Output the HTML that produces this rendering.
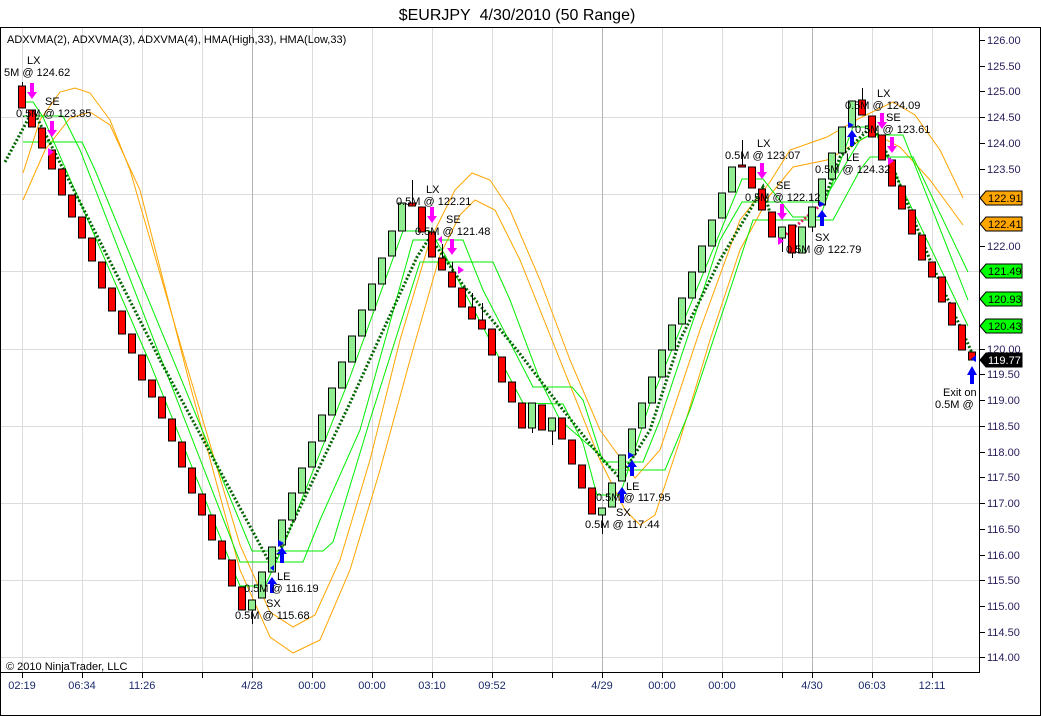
<!DOCTYPE html>
<html><head><meta charset="utf-8"><style>
html,body{margin:0;padding:0;background:#fff;}
svg{display:block;font-family:"Liberation Sans",Arial,sans-serif;}
</style></head><body>
<svg width="1041" height="716" viewBox="0 0 1041 716" xmlns="http://www.w3.org/2000/svg">
<rect width="1041" height="716" fill="#fff"/>
<text x="517" y="20" font-size="16" text-anchor="middle" fill="#000">$EURJPY&#160; 4/30/2010 (50 Range)</text>
<rect x="0.5" y="27.5" width="1040" height="688" fill="none" stroke="#000"/>
<!-- grid -->
<g stroke="#dcdcdc" stroke-width="1">
<line x1="1" x2="979" y1="117.5" y2="117.5"/><line x1="1" x2="979" y1="194.5" y2="194.5"/>
<line x1="1" x2="979" y1="271.5" y2="271.5"/><line x1="1" x2="979" y1="349.5" y2="349.5"/>
<line x1="1" x2="979" y1="426.5" y2="426.5"/><line x1="1" x2="979" y1="503.5" y2="503.5"/>
<line x1="1" x2="979" y1="580.5" y2="580.5"/><line x1="1" x2="979" y1="657.5" y2="657.5"/>
<line x1="22.5" x2="22.5" y1="28" y2="672"/><line x1="82.5" x2="82.5" y1="28" y2="672"/>
<line x1="142.5" x2="142.5" y1="28" y2="672"/><line x1="202.5" x2="202.5" y1="28" y2="672"/>
<line x1="312.5" x2="312.5" y1="28" y2="672"/><line x1="372.5" x2="372.5" y1="28" y2="672"/>
<line x1="432.5" x2="432.5" y1="28" y2="672"/><line x1="492.5" x2="492.5" y1="28" y2="672"/>
<line x1="552.5" x2="552.5" y1="28" y2="672"/><line x1="662.5" x2="662.5" y1="28" y2="672"/>
<line x1="722.5" x2="722.5" y1="28" y2="672"/><line x1="782.5" x2="782.5" y1="28" y2="672"/>
<line x1="872.5" x2="872.5" y1="28" y2="672"/><line x1="932.5" x2="932.5" y1="28" y2="672"/>
</g>
<g stroke="#b4b4b4"><line x1="252.5" x2="252.5" y1="28" y2="672"/><line x1="602.5" x2="602.5" y1="28" y2="672"/><line x1="812.5" x2="812.5" y1="28" y2="672"/></g>
<!-- orange HMA -->
<g fill="none" stroke="#FFA500" stroke-width="1">
<polyline points="23,173 40,120 60,92 75,88 90,93 110,120 130,170 185,360 240,545 270,612 293,627 315,615 340,560 370,460 400,340 430,240 455,190 472,173 490,180 510,210 540,280 570,360 600,430 635,478 660,450 700,330 740,220 770,182 790,150 827,137 860,118 893,102 915,115 940,150 963,198"/>
<polyline points="23,200 45,150 70,118 90,112 110,125 140,190 190,385 240,570 270,637 293,653 320,640 350,570 380,470 410,360 440,255 460,215 475,200 495,210 520,260 560,360 600,460 625,510 640,525 655,515 680,440 710,340 740,250 770,195 793,167 827,160 873,133 900,147 930,180 963,225"/>
</g>
<!-- green ADXVMA -->
<g fill="none" stroke="#00EE00" stroke-width="1">
<polyline points="23,102 33,102 43,117 150,363 240,586 265,586 283,547 350,377 403,231 430,231 445,255 523,403 563,404 583,443 597,495 620,495 650,403 742,179 763,179 793,217 820,217 853,127 873,127 968,326"/>
<polyline points="23,116 63,116 80,150 240,562 303,562 320,520 360,430 413,240 463,240 483,290 533,387 572,387 583,400 603,462 643,462 660,420 720,240 742,202 820,202 830,190 860,140 870,135 903,135 968,300"/>
<polyline points="23,142 82,142 95,170 252,551 323,551 333,542 370,420 420,262 493,262 510,300 540,380 560,420 600,455 612,470 665,470 690,410 730,290 753,220 833,220 860,170 870,157 913,157 968,272"/>
</g>
<!-- dotted -->
<polyline fill="none" stroke="#006400" stroke-width="3" stroke-dasharray="2,2" points="5,162 33,110 50,143 160,360 272,567 283,543 350,403 380,337 417,257 430,237 463,285 517,350 563,410 603,460 620,478 650,430 680,340 720,260 750,210 763,187 775,232"/>
<polyline fill="none" stroke="#E02060" stroke-width="3" stroke-dasharray="2,2" points="783,237 823,203"/>
<polyline fill="none" stroke="#006400" stroke-width="3" stroke-dasharray="2,2" points="823,203 840,157 873,125 890,160 930,260 973,355"/>
<!-- wicks -->
<g stroke="#000" stroke-width="1">
<line x1="22.5" x2="22.5" y1="82" y2="86"/><line x1="252.5" x2="252.5" y1="610" y2="624"/>
<line x1="412.5" x2="412.5" y1="180" y2="206"/><line x1="442.5" x2="442.5" y1="244" y2="258"/>
<line x1="452.5" x2="452.5" y1="262" y2="272"/><line x1="472.5" x2="472.5" y1="293" y2="307"/>
<line x1="482.5" x2="482.5" y1="303" y2="320"/><line x1="532.5" x2="532.5" y1="428" y2="433"/>
<line x1="552.5" x2="552.5" y1="431" y2="445"/><line x1="602.5" x2="602.5" y1="515" y2="534"/>
<line x1="742.5" x2="742.5" y1="140" y2="167"/><line x1="782.5" x2="782.5" y1="238" y2="252"/>
<line x1="812.5" x2="812.5" y1="227" y2="232"/><line x1="862.5" x2="862.5" y1="88" y2="100"/>
<line x1="792.5" x2="792.5" y1="253" y2="258"/>
</g>
<!-- bars -->
<g stroke="#000" stroke-width="1" fill="#FF0000">
<rect x="18.5" y="86" width="7" height="22"/><rect x="28.5" y="110" width="7" height="17"/>
<rect x="38.5" y="128" width="7" height="20"/><rect x="48.5" y="150" width="7" height="19"/>
<rect x="58.5" y="169" width="7" height="26"/><rect x="68.5" y="195" width="7" height="22"/>
<rect x="78.5" y="217" width="7" height="21"/><rect x="88.5" y="238" width="7" height="23"/>
<rect x="98.5" y="262" width="7" height="26"/><rect x="108.5" y="288" width="7" height="23"/>
<rect x="118.5" y="311" width="7" height="23"/><rect x="128.5" y="334" width="7" height="19"/>
<rect x="138.5" y="355" width="7" height="25"/><rect x="148.5" y="380" width="7" height="17"/>
<rect x="158.5" y="397" width="7" height="21"/><rect x="168.5" y="419" width="7" height="22"/>
<rect x="178.5" y="442" width="7" height="25"/><rect x="188.5" y="468" width="7" height="25"/>
<rect x="198.5" y="494" width="7" height="21"/><rect x="208.5" y="515" width="7" height="25"/>
<rect x="218.5" y="541" width="7" height="18"/><rect x="228.5" y="560" width="7" height="26"/>
<rect x="238.5" y="587" width="7" height="23"/>
<rect x="408.5" y="203" width="7" height="3"/><rect x="418.5" y="207" width="7" height="25"/>
<rect x="428.5" y="232" width="7" height="25"/><rect x="438.5" y="258" width="7" height="12"/>
<rect x="448.5" y="272" width="7" height="15"/><rect x="458.5" y="288" width="7" height="19"/>
<rect x="468.5" y="307" width="7" height="12"/><rect x="478.5" y="320" width="7" height="9"/>
<rect x="488.5" y="329" width="7" height="26"/><rect x="498.5" y="357" width="7" height="25"/>
<rect x="508.5" y="382" width="7" height="20"/><rect x="518.5" y="403" width="7" height="25"/>
<rect x="538.5" y="405" width="7" height="25"/><rect x="558.5" y="418" width="7" height="21"/>
<rect x="568.5" y="440" width="7" height="24"/><rect x="578.5" y="465" width="7" height="23"/>
<rect x="588.5" y="488" width="7" height="26"/>
<rect x="738.5" y="165" width="7" height="2"/><rect x="748.5" y="167" width="7" height="21"/>
<rect x="758.5" y="189" width="7" height="21"/><rect x="768.5" y="212" width="7" height="25"/>
<rect x="788.5" y="225" width="7" height="28"/>
<rect x="858.5" y="100" width="7" height="15"/><rect x="868.5" y="116" width="7" height="21"/>
<rect x="878.5" y="135" width="7" height="25"/><rect x="888.5" y="160" width="7" height="26"/>
<rect x="898.5" y="186" width="7" height="23"/><rect x="908.5" y="210" width="7" height="24"/>
<rect x="918.5" y="235" width="7" height="25"/><rect x="928.5" y="262" width="7" height="15"/>
<rect x="938.5" y="277" width="7" height="25"/><rect x="948.5" y="303" width="7" height="22"/>
<rect x="958.5" y="325" width="7" height="25"/><rect x="968.5" y="352" width="7" height="8"/>
</g>
<g stroke="#000" stroke-width="1" fill="#90EE90">
<rect x="248.5" y="600" width="7" height="10"/><rect x="258.5" y="572" width="7" height="26"/>
<rect x="268.5" y="547" width="7" height="25"/><rect x="278.5" y="520" width="7" height="25"/>
<rect x="288.5" y="493" width="7" height="27"/><rect x="298.5" y="468" width="7" height="25"/>
<rect x="308.5" y="442" width="7" height="25"/><rect x="318.5" y="415" width="7" height="26"/>
<rect x="328.5" y="388" width="7" height="27"/><rect x="338.5" y="362" width="7" height="26"/>
<rect x="348.5" y="336" width="7" height="26"/><rect x="358.5" y="310" width="7" height="26"/>
<rect x="368.5" y="284" width="7" height="26"/><rect x="378.5" y="258" width="7" height="26"/>
<rect x="388.5" y="231" width="7" height="25"/><rect x="398.5" y="203" width="7" height="28"/>
<rect x="528.5" y="403" width="7" height="25"/><rect x="548.5" y="418" width="7" height="13"/>
<rect x="598.5" y="508" width="7" height="7"/><rect x="608.5" y="483" width="7" height="24"/>
<rect x="618.5" y="455" width="7" height="26"/><rect x="628.5" y="429" width="7" height="26"/>
<rect x="638.5" y="403" width="7" height="25"/><rect x="648.5" y="377" width="7" height="26"/>
<rect x="658.5" y="350" width="7" height="27"/><rect x="668.5" y="325" width="7" height="25"/>
<rect x="678.5" y="298" width="7" height="26"/><rect x="688.5" y="272" width="7" height="26"/>
<rect x="698.5" y="246" width="7" height="26"/><rect x="708.5" y="220" width="7" height="26"/>
<rect x="718.5" y="193" width="7" height="25"/><rect x="728.5" y="167" width="7" height="25"/>
<rect x="778.5" y="227" width="7" height="11"/><rect x="798.5" y="227" width="7" height="26"/>
<rect x="808.5" y="207" width="7" height="20"/><rect x="818.5" y="179" width="7" height="26"/>
<rect x="828.5" y="153" width="7" height="26"/><rect x="838.5" y="127" width="7" height="26"/>
<rect x="848.5" y="101" width="7" height="26"/>
</g>
<!-- arrows -->
<g fill="#FF00FF">
<polygon points="30,83 34,83 34,92 37,92 32,99 27,92 30,92"/>
<polygon points="50,121 54,121 54,130 57,130 52,137 47,130 50,130"/>
<polygon points="430,207 434,207 434,216 437,216 432,223 427,216 430,216"/>
<polygon points="450,239 454,239 454,248 457,248 452,255 447,248 450,248"/>
<polygon points="760,163 764,163 764,172 767,172 762,179 757,172 760,172"/>
<polygon points="780,204 784,204 784,213 787,213 782,220 777,213 780,213"/>
<polygon points="880,113 884,113 884,122 887,122 882,129 877,122 880,122"/>
<polygon points="890,137 894,137 894,146 897,146 892,153 887,146 890,146"/>
<polygon points="48,148 54,152 48,156"/><polygon points="438,239 442,236 442,244"/><polygon points="458,266 464,270 458,274"/>
<polygon points="778,237 784,241 778,245"/><polygon points="888,157 894,161 888,165"/>
</g>
<g fill="#0000FF">
<polygon points="270,593 274,593 274,584 277,584 272,577 267,584 270,584"/>
<polygon points="280,563 284,563 284,554 287,554 282,547 277,554 280,554"/>
<polygon points="620,503 624,503 624,494 627,494 622,487 617,494 620,494"/>
<polygon points="630,476 634,476 634,467 637,467 632,460 627,467 630,467"/>
<polygon points="820,226 824,226 824,217 827,217 822,210 817,217 820,217"/>
<polygon points="850,146 854,146 854,137 857,137 852,130 847,137 850,137"/>
<polygon points="970,384 974,384 974,375 977,375 972,366 967,375 970,375"/>
<polygon points="278,540 284,543 278,547"/><polygon points="628,452 634,455 628,459"/><polygon points="819,201 825,204 819,207"/>
<polygon points="848,122 854,125 848,128"/><polygon points="976,355 976,362 971,359"/><polygon points="270,568 274,565 274,571"/>
</g>
<!-- annotations -->
<g font-size="11" fill="#000">
<text x="7" y="43">ADXVMA(2), ADXVMA(3), ADXVMA(4), HMA(High,33), HMA(Low,33)</text>
<text x="27" y="64">LX</text><text x="4" y="76">5M @ 124.62</text>
<text x="45" y="105">SE</text><text x="16" y="117">0.5M @ 123.85</text>
<text x="426" y="193">LX</text><text x="396" y="205">0.5M @ 122.21</text>
<text x="446" y="223">SE</text><text x="415" y="235">0.5M @ 121.48</text>
<text x="277" y="580">LE</text><text x="244" y="592">0.5M @ 116.19</text>
<text x="266" y="607">SX</text><text x="235" y="619">0.5M @ 115.68</text>
<text x="626" y="490">LE</text><text x="596" y="501">0.5M @ 117.95</text>
<text x="616" y="516">SX</text><text x="585" y="528">0.5M @ 117.44</text>
<text x="757" y="147">LX</text><text x="725" y="159">0.5M @ 123.07</text>
<text x="776" y="189">SE</text><text x="745" y="201">0.5M @ 122.12</text>
<text x="815" y="241">SX</text><text x="786" y="253">0.5M @ 122.79</text>
<text x="846" y="161">LE</text><text x="815" y="173">0.5M @ 124.32</text>
<text x="877" y="97">LX</text><text x="845" y="109">0.5M @ 124.09</text>
<text x="886" y="121">SE</text><text x="855" y="133">0.5M @ 123.61</text>
<text x="943" y="396">Exit on</text><text x="935" y="408">0.5M @</text>
<text x="6" y="670">© 2010 NinjaTrader, LLC</text>
</g>
<!-- axes -->
<line x1="1" x2="979" y1="672.5" y2="672.5" stroke="#000"/>
<line x1="979.5" x2="979.5" y1="28" y2="673" stroke="#000"/>
<g stroke="#000">
<line x1="22.5" x2="22.5" y1="672" y2="678"/><line x1="82.5" x2="82.5" y1="672" y2="678"/><line x1="142.5" x2="142.5" y1="672" y2="678"/>
<line x1="202.5" x2="202.5" y1="672" y2="678"/><line x1="252.5" x2="252.5" y1="672" y2="678"/><line x1="312.5" x2="312.5" y1="672" y2="678"/>
<line x1="372.5" x2="372.5" y1="672" y2="678"/><line x1="432.5" x2="432.5" y1="672" y2="678"/><line x1="492.5" x2="492.5" y1="672" y2="678"/>
<line x1="552.5" x2="552.5" y1="672" y2="678"/><line x1="602.5" x2="602.5" y1="672" y2="678"/><line x1="662.5" x2="662.5" y1="672" y2="678"/>
<line x1="722.5" x2="722.5" y1="672" y2="678"/><line x1="782.5" x2="782.5" y1="672" y2="678"/><line x1="812.5" x2="812.5" y1="672" y2="678"/>
<line x1="872.5" x2="872.5" y1="672" y2="678"/><line x1="932.5" x2="932.5" y1="672" y2="678"/>
</g>
<g font-size="11" fill="#1a2a6a" text-anchor="middle">
<text x="22" y="689">02:19</text><text x="82" y="689">06:34</text><text x="142" y="689">11:26</text>
<text x="252" y="689">4/28</text><text x="312" y="689">00:00</text><text x="372" y="689">00:00</text>
<text x="432" y="689">03:10</text><text x="492" y="689">09:52</text><text x="602" y="689">4/29</text>
<text x="662" y="689">00:00</text><text x="722" y="689">00:00</text><text x="812" y="689">4/30</text>
<text x="872" y="689">06:03</text><text x="932" y="689">12:11</text>
</g>
<g stroke="#000">
<line x1="979" x2="985" y1="40.5" y2="40.5"/><line x1="979" x2="985" y1="66.5" y2="66.5"/><line x1="979" x2="985" y1="91.5" y2="91.5"/>
<line x1="979" x2="985" y1="117.5" y2="117.5"/><line x1="979" x2="985" y1="143.5" y2="143.5"/><line x1="979" x2="985" y1="169.5" y2="169.5"/>
<line x1="979" x2="985" y1="246.5" y2="246.5"/><line x1="979" x2="985" y1="349.5" y2="349.5"/><line x1="979" x2="985" y1="374.5" y2="374.5"/>
<line x1="979" x2="985" y1="400.5" y2="400.5"/><line x1="979" x2="985" y1="426.5" y2="426.5"/><line x1="979" x2="985" y1="452.5" y2="452.5"/>
<line x1="979" x2="985" y1="477.5" y2="477.5"/><line x1="979" x2="985" y1="503.5" y2="503.5"/><line x1="979" x2="985" y1="529.5" y2="529.5"/>
<line x1="979" x2="985" y1="555.5" y2="555.5"/><line x1="979" x2="985" y1="580.5" y2="580.5"/><line x1="979" x2="985" y1="606.5" y2="606.5"/>
<line x1="979" x2="985" y1="632.5" y2="632.5"/><line x1="979" x2="985" y1="657.5" y2="657.5"/>
</g>
<g font-size="11" fill="#2a1a5a">
<text x="987" y="44">126.00</text><text x="987" y="70">125.50</text><text x="987" y="95">125.00</text>
<text x="987" y="121">124.50</text><text x="987" y="147">124.00</text><text x="987" y="173">123.50</text>
<text x="987" y="250">122.00</text><text x="987" y="353">120.00</text><text x="987" y="378">119.50</text>
<text x="987" y="404">119.00</text><text x="987" y="430">118.50</text><text x="987" y="456">118.00</text>
<text x="987" y="481">117.50</text><text x="987" y="507">117.00</text><text x="987" y="533">116.50</text>
<text x="987" y="559">116.00</text><text x="987" y="584">115.50</text><text x="987" y="610">115.00</text>
<text x="987" y="636">114.50</text><text x="987" y="661">114.00</text>
</g>
<!-- value boxes -->
<g stroke="#000" stroke-width="1" font-size="11">
<polygon points="980,198 986,191 1022,191 1022,205 986,205" fill="#FFA500"/>
<polygon points="980,224 986,217 1022,217 1022,231 986,231" fill="#FFA500"/>
<polygon points="980,271 986,264 1022,264 1022,278 986,278" fill="#00FF00"/>
<polygon points="980,299 986,292 1022,292 1022,306 986,306" fill="#00FF00"/>
<polygon points="980,326 986,319 1022,319 1022,333 986,333" fill="#00FF00"/>
<polygon points="980,360 986,353 1022,353 1022,367 986,367" fill="#000"/>
</g>
<g font-size="11">
<text x="988" y="202" fill="#000">122.91</text><text x="988" y="228" fill="#000">122.41</text>
<text x="988" y="275" fill="#000">121.49</text><text x="988" y="303" fill="#000">120.93</text>
<text x="988" y="330" fill="#000">120.43</text><text x="988" y="364" fill="#fff">119.77</text>
</g>
</svg>
</body></html>
